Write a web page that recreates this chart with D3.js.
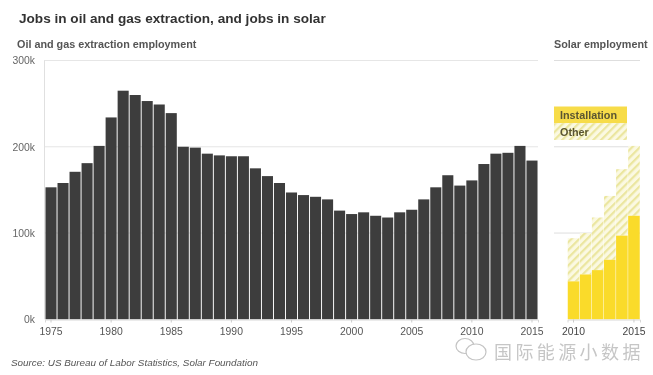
<!DOCTYPE html>
<html><head><meta charset="utf-8">
<script src="https://cdnjs.cloudflare.com/ajax/libs/d3/7.8.5/d3.min.js"></script>
<style>html,body{margin:0;padding:0;background:#fff}svg{display:block}text{font-family:"Liberation Sans",Arial,sans-serif}</style>
</head><body><svg id="c" width="653" height="375"></svg>
<script>
const oilYears = d3.range(1975, 2016);
const oilJobs = [153,158,171,181,201,234,265,260,253,249,239,200,199,192,190,189,189,175,166,158,147,144,142,139,126,122,124,120,118,124,127,139,153,167,155,161,180,192,193,201,184];
const solarYears = [2010,2011,2012,2013,2014,2015];
const solarInstallation = [44,52,57,69,97,120];
const solarTotal = [94,100,118,143,174,201];
const yTicks = [0,100000,200000,300000];
const oilTickYears = [1975,1980,1985,1990,1995,2000,2005,2010,2015];
const solarTickYears = [2010,2015];
const legendLabels = ["Installation","Other"];
const titleText = "Jobs in oil and gas extraction, and jobs in solar";
const oilHeading = "Oil and gas extraction employment";
const solarHeading = "Solar employment";
const sourceText = "Source: US Bureau of Labor Statistics, Solar Foundation";
const watermarkText = "国际能源小数据";

const svg = d3.select("#c");
const defs = svg.append("defs");
defs.append("filter").attr("id","soft").attr("x","-5%").attr("y","-5%").attr("width","110%").attr("height","110%")
  .append("feGaussianBlur").attr("stdDeviation",0.5);
const pat = defs.append("pattern").attr("id","hatch").attr("patternUnits","userSpaceOnUse")
  .attr("width",5.5).attr("height",5.5).attr("patternTransform","rotate(45)");
pat.append("rect").attr("width",5.5).attr("height",5.5).attr("fill","#fbf9e2");
pat.append("rect").attr("width",2.2).attr("height",5.5).attr("fill","#ebe69f");

const g = svg.append("g").attr("filter","url(#soft)");
const y = d3.scaleLinear().domain([0,300000]).range([319.3,60.5]);
const xOil = d3.scaleBand().domain(oilYears).range([45,538]).paddingInner(0.08).paddingOuter(0.04);
const xSolar = d3.scaleBand().domain(solarYears).range([567.5,640]).paddingInner(0.04).paddingOuter(0.02);

// grid lines
g.append("g").selectAll("line").data(yTicks.slice(1)).join("line")
  .attr("x1",44).attr("x2",538).attr("y1",d=>y(d)).attr("y2",d=>y(d)).attr("stroke","#e6e6e6");
g.append("g").selectAll("line").data(yTicks.slice(1)).join("line")
  .attr("x1",554).attr("x2",640).attr("y1",d=>y(d)).attr("y2",d=>y(d)).attr("stroke","#dedede");
g.append("line").attr("x1",44.5).attr("x2",44.5).attr("y1",y(300000)).attr("y2",y(0)).attr("stroke","#e0e0e0");

// oil bars
g.append("g").selectAll("rect").data(oilYears).join("rect")
  .attr("x",d=>xOil(d)).attr("width",xOil.bandwidth())
  .attr("y",(d,i)=>y(oilJobs[i]*1000)).attr("height",(d,i)=>y(0)-y(oilJobs[i]*1000))
  .attr("fill","#3d3d3d");

// solar bars
g.append("g").selectAll("rect").data(solarYears).join("rect")
  .attr("x",d=>xSolar(d)).attr("width",xSolar.bandwidth())
  .attr("y",(d,i)=>y(solarTotal[i]*1000)).attr("height",(d,i)=>y(solarInstallation[i]*1000)-y(solarTotal[i]*1000))
  .attr("fill","url(#hatch)");
g.append("g").selectAll("rect").data(solarYears).join("rect")
  .attr("x",d=>xSolar(d)).attr("width",xSolar.bandwidth())
  .attr("y",(d,i)=>y(solarInstallation[i]*1000)).attr("height",(d,i)=>y(0)-y(solarInstallation[i]*1000))
  .attr("fill","#fadb2c");

// axes
const yAxis = d3.axisLeft(y).tickValues(yTicks).tickFormat(d=>(d/1000)+"k").tickSize(0).tickPadding(9);
const ya = g.append("g").attr("transform","translate(44,0)").call(yAxis);
ya.select(".domain").remove();
ya.selectAll("text").attr("font-size",10.4).attr("fill","#666");

const xOilAxis = d3.axisBottom(xOil).tickValues(oilTickYears).tickSize(3).tickPadding(5.5);
const xa = g.append("g").attr("transform","translate(0,319.5)").call(xOilAxis);
xa.select(".domain").attr("stroke","#d8d8d8");
xa.selectAll("line").attr("stroke","#ccc");
xa.selectAll("text").attr("font-size",10.4).attr("fill","#555");

const xSolarAxis = d3.axisBottom(xSolar).tickValues(solarTickYears).tickSize(3).tickPadding(5.5);
const xs = g.append("g").attr("transform","translate(0,319.5)").call(xSolarAxis);
xs.select(".domain").attr("stroke","#d8d8d8");
xs.selectAll("line").attr("stroke","#ccc");
xs.selectAll("text").attr("font-size",10.4).attr("fill","#444");

// legend
const legendColors = ["#f7dc4a","url(#hatch)"];
const legY = d3.scaleBand().domain(legendLabels).range([106.5,140]);
const leg = g.append("g").selectAll("g").data(legendLabels).join("g")
  .attr("transform",d=>`translate(554,${legY(d)})`);
leg.append("rect").attr("width",73).attr("height",legY.bandwidth()).attr("fill",(d,i)=>legendColors[i]);
leg.append("text").attr("x",6).attr("y",12.5).attr("font-size",10.8).attr("font-weight","bold").attr("fill","#5a5530").text(d=>d);

// text
g.append("text").attr("x",19).attr("y",23).attr("font-size",13.6).attr("font-weight","bold").attr("fill","#333").text(titleText);
g.append("text").attr("x",17).attr("y",48).attr("font-size",10.8).attr("font-weight","bold").attr("fill","#555").text(oilHeading);
g.append("text").attr("x",554).attr("y",48).attr("font-size",10.8).attr("font-weight","bold").attr("fill","#555").text(solarHeading);
g.append("text").attr("x",11).attr("y",365.5).attr("font-size",9.9).attr("font-style","italic").attr("fill","#555").text(sourceText);

// watermark
const wm = g.append("g").attr("fill","none").attr("stroke","#c4c4c4").attr("stroke-width",1.2);
wm.append("ellipse").attr("cx",465).attr("cy",346).attr("rx",9).attr("ry",7.5).attr("fill","#fff");
wm.append("ellipse").attr("cx",476).attr("cy",352).attr("rx",10).attr("ry",8).attr("fill","#fff");
g.append("text").attr("x",494).attr("y",358.5).attr("font-size",18).attr("letter-spacing",3.4).attr("fill","#c6c6c6")
  .style("font-family",'"Noto Sans CJK SC"').text(watermarkText);
</script></body></html>
